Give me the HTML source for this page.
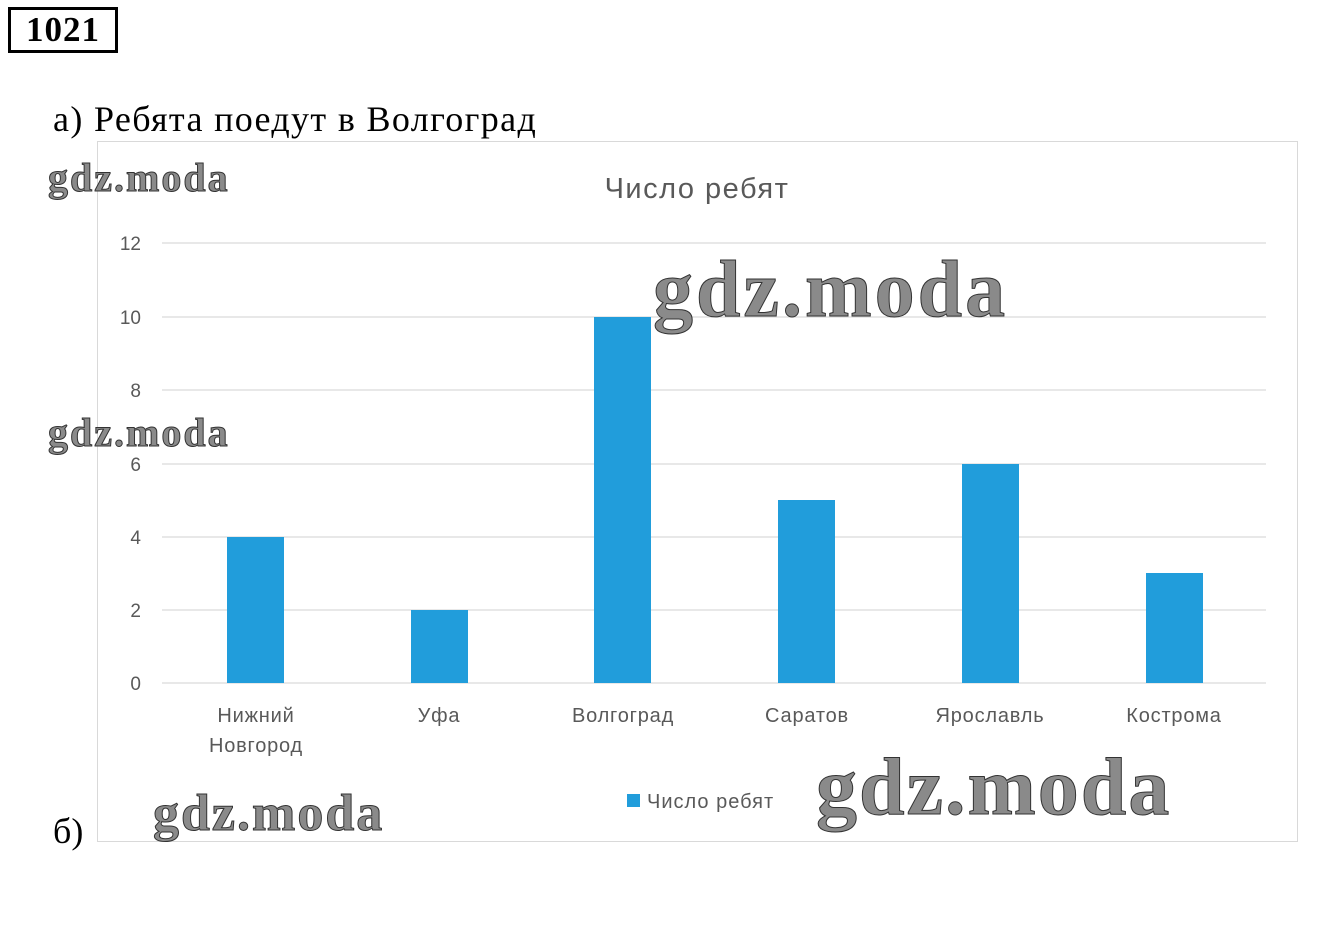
<!DOCTYPE html>
<html><head><meta charset="utf-8"><style>
body{margin:0;width:1332px;height:925px;background:#fff;overflow:hidden;position:relative}
.wm{position:absolute;font-family:"Liberation Serif",serif;font-weight:bold;color:#8a8a8a;-webkit-text-stroke:1px #333;white-space:nowrap}
</style></head><body>
<div style="position:absolute;left:8px;top:7px;width:104px;height:40px;border:3px solid #000;font-family:'Liberation Serif',serif;font-weight:bold;font-size:35px;line-height:40px;text-align:center;letter-spacing:1px">1021</div>
<div style="position:absolute;left:53px;top:98px;font-family:'Liberation Serif',serif;font-size:36px;line-height:42px;letter-spacing:1.35px">а) Ребята поедут в Волгоград</div>
<div style="position:absolute;left:53px;top:810px;font-family:'Liberation Serif',serif;font-size:36px;line-height:42px">б)</div>
<svg style="position:absolute;left:0;top:0" width="1332" height="925">
<rect x="97.5" y="141.5" width="1200" height="700" fill="none" stroke="#d9d9d9"/>
<text x="697" y="198" text-anchor="middle" font-family="Liberation Sans,sans-serif" font-size="29" letter-spacing="1.5" fill="#595959">Число ребят</text>
<g stroke="#d9d9d9" stroke-width="1.3">
<line x1="162" x2="1266" y1="243" y2="243"/><line x1="162" x2="1266" y1="317" y2="317"/><line x1="162" x2="1266" y1="390" y2="390"/><line x1="162" x2="1266" y1="464" y2="464"/><line x1="162" x2="1266" y1="537" y2="537"/><line x1="162" x2="1266" y1="610" y2="610"/><line x1="162" x2="1266" y1="683" y2="683"/>
</g>
<g font-family="Liberation Sans,sans-serif" font-size="19" fill="#595959" text-anchor="end">
<text x="141" y="250">12</text><text x="141" y="324">10</text><text x="141" y="397">8</text><text x="141" y="471">6</text><text x="141" y="544">4</text><text x="141" y="617">2</text><text x="141" y="690">0</text>
</g>
<g fill="#219ddb">
<rect x="227" y="537" width="57" height="146"/><rect x="411" y="610" width="57" height="73"/><rect x="594" y="317" width="57" height="366"/><rect x="778" y="500" width="57" height="183"/><rect x="962" y="464" width="57" height="219"/><rect x="1146" y="573" width="57" height="110"/>
</g>
<g font-family="Liberation Sans,sans-serif" font-size="20" fill="#595959" text-anchor="middle" letter-spacing="0.8">
<text x="256" y="722">Нижний</text><text x="256" y="752">Новгород</text><text x="439" y="722">Уфа</text><text x="623" y="722">Волгоград</text><text x="807" y="722">Саратов</text><text x="990" y="722">Ярославль</text><text x="1174" y="722">Кострома</text>
</g>
<rect x="627" y="794" width="13" height="13" fill="#219ddb"/>
<text x="647" y="808" font-family="Liberation Sans,sans-serif" font-size="20" letter-spacing="1" fill="#595959">Число ребят</text>
</svg>
<div class="wm" style="left:48px;top:154px;font-size:40px;letter-spacing:2px">gdz.moda</div>
<div class="wm" style="left:48px;top:409px;font-size:40px;letter-spacing:2px">gdz.moda</div>
<div class="wm" style="left:653px;top:245px;font-size:80px;letter-spacing:3px">gdz.moda</div>
<div class="wm" style="left:153px;top:784px;font-size:52px;letter-spacing:2px">gdz.moda</div>
<div class="wm" style="left:816px;top:740px;font-size:82px;letter-spacing:2px">gdz.moda</div>
</body></html>
